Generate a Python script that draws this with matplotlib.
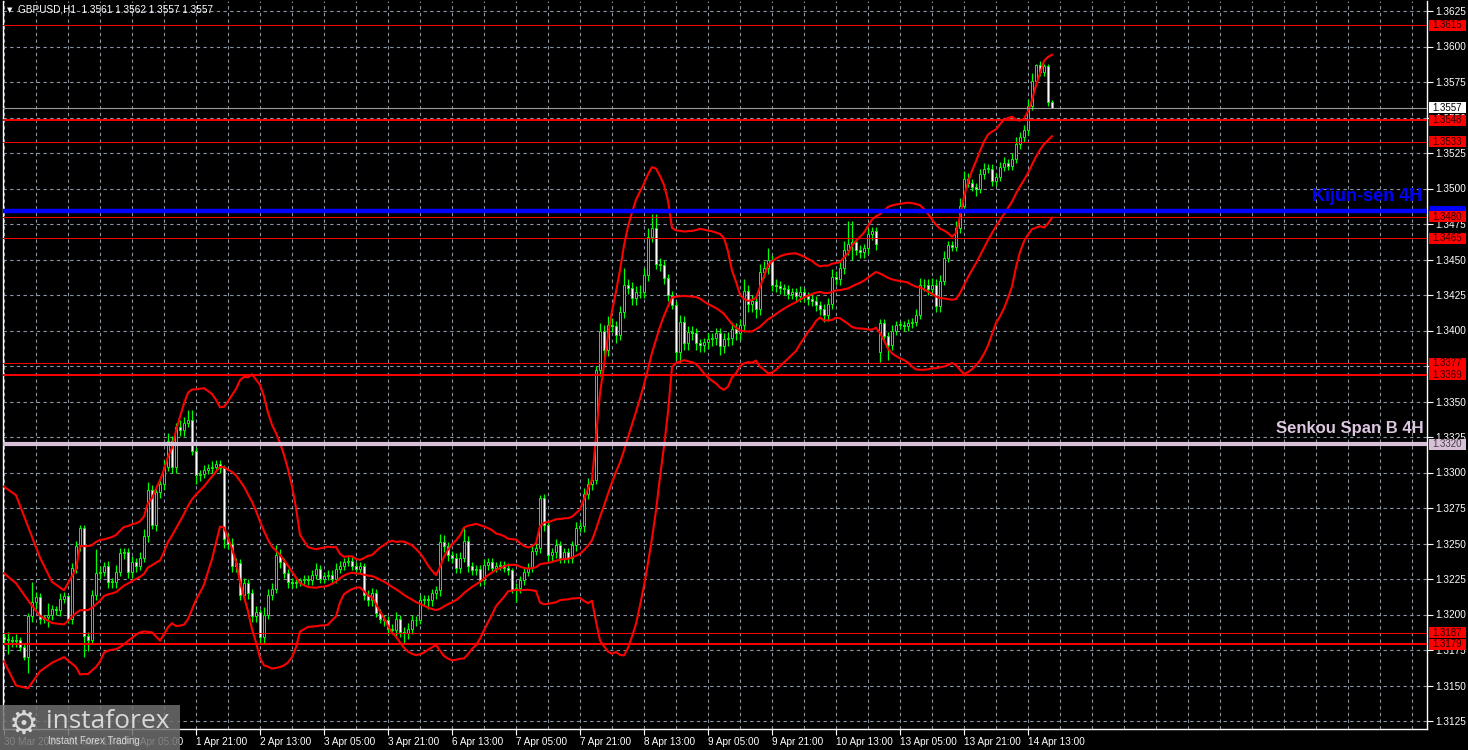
import numpy as np
import pandas as pd
import matplotlib
matplotlib.use("Agg")
import matplotlib.pyplot as plt
from matplotlib.patches import Rectangle
import matplotlib.transforms as mtransforms

# ---------------- data ----------------
symbol_title = "GBPUSD,H1  1.3561 1.3562 1.3557 1.3557"
first_open = 1.3184
gap_opens = {219: 1.3385}  # weekend gap (Monday open)

closes = [
    1.3183, 1.3182, 1.3181, 1.3182, 1.3177, 1.3170, 1.3199, 1.3209, 1.3212, 1.3197,
    1.3198, 1.3200, 1.3204, 1.3203, 1.3211, 1.3213, 1.3197, 1.3233, 1.3248, 1.3261,
    1.3185, 1.3182, 1.3214, 1.3229, 1.3230, 1.3234, 1.3223, 1.3223, 1.3230, 1.3243,
    1.3244, 1.3230, 1.3237, 1.3234, 1.3240, 1.3255, 1.3288, 1.3263, 1.3286, 1.3292,
    1.3304, 1.3322, 1.3304, 1.3332, 1.3330, 1.3335, 1.3337, 1.3315, 1.3298, 1.3299,
    1.3302, 1.3303, 1.3304, 1.3306, 1.3303, 1.3253, 1.3250, 1.3234, 1.3236, 1.3214,
    1.3222, 1.3215, 1.3199, 1.3202, 1.3184, 1.3200, 1.3214, 1.3218, 1.3242, 1.3237,
    1.3229, 1.3223, 1.3222, 1.3223, 1.3224, 1.3225, 1.3224, 1.3228, 1.3232, 1.3225,
    1.3227, 1.3228, 1.3225, 1.3232, 1.3234, 1.3237, 1.3238, 1.3234, 1.3232, 1.3234,
    1.3214, 1.3210, 1.3215, 1.3201, 1.3197, 1.3196, 1.3190, 1.3189, 1.3197, 1.3188,
    1.3187, 1.3190, 1.3196, 1.3196, 1.3210, 1.3211, 1.3210, 1.3215, 1.3217, 1.3251,
    1.3248, 1.3242, 1.3240, 1.3233, 1.3240, 1.3252, 1.3234, 1.3231, 1.3232, 1.3224,
    1.3235, 1.3237, 1.3233, 1.3234, 1.3235, 1.3233, 1.3231, 1.3217, 1.3219, 1.3224,
    1.3230, 1.3233, 1.3245, 1.3247, 1.3282, 1.3263, 1.3242, 1.3244, 1.3249, 1.3240,
    1.3244, 1.3240, 1.3249, 1.3261, 1.3262, 1.3285, 1.3292, 1.3295, 1.3372, 1.3400,
    1.3386, 1.3404, 1.3403, 1.3397, 1.3413, 1.3432, 1.3430, 1.3423, 1.3427, 1.3427,
    1.3439, 1.3466, 1.3472, 1.3447, 1.3446, 1.3437, 1.3425, 1.3418, 1.3385, 1.3406,
    1.3391, 1.3399, 1.3398, 1.3391, 1.3390, 1.3392, 1.3394, 1.3395, 1.3398, 1.3389,
    1.3394, 1.3395, 1.3401, 1.3398, 1.3404, 1.3428, 1.3419, 1.3421, 1.3415, 1.3441,
    1.3444, 1.3450, 1.3432, 1.3431, 1.3430, 1.3429, 1.3426, 1.3427, 1.3424, 1.3427,
    1.3424, 1.3422, 1.3421, 1.3418, 1.3415, 1.3411, 1.3419, 1.3438, 1.3436, 1.3444,
    1.3457, 1.3461, 1.3462, 1.3457, 1.3455, 1.3458, 1.3468, 1.3470, 1.3461, 1.3405,
    1.3396, 1.3390, 1.3400, 1.3404, 1.3404, 1.3403, 1.3405, 1.3406, 1.3411, 1.3432,
    1.3432, 1.3429, 1.3432, 1.3417, 1.3435, 1.3451, 1.3460, 1.3459, 1.3472, 1.3488,
    1.3507, 1.3504, 1.3501, 1.3500, 1.3510, 1.3514, 1.3514, 1.3505, 1.3508, 1.3515,
    1.3518, 1.3516, 1.3521, 1.3531, 1.3536, 1.3541, 1.3558, 1.3576, 1.3587, 1.3582,
    1.3586, 1.3561, 1.3557,
]

# wick lengths in pips above max(open, close) and below min(open, close)
wick_up = [
    3, 5, 3, 4, 2, 2, 2, 14, 4, 3,
    2, 8, 3, 2, 4, 3, 1, 3, 4, 2,
    2, 3, 3, 17, 4, 3, 4, 3, 5, 4,
    3, 3, 4, 3, 4, 5, 5, 3, 4, 4,
    5, 6, 4, 3, 5, 4, 7, 7, 3, 3,
    3, 3, 4, 3, 3, 2, 4, 4, 4, 3,
    4, 3, 3, 4, 2, 5, 4, 4, 7, 4,
    3, 3, 3, 3, 2, 3, 3, 3, 4, 3,
    3, 3, 3, 4, 4, 3, 3, 3, 3, 3,
    2, 3, 4, 3, 3, 3, 3, 3, 5, 3,
    3, 4, 4, 3, 4, 3, 3, 3, 3, 6,
    5, 3, 3, 3, 4, 9, 3, 3, 3, 3,
    4, 3, 3, 3, 3, 3, 3, 2, 3, 3,
    3, 3, 4, 4, 2, 3, 3, 3, 4, 3,
    3, 3, 3, 4, 3, 4, 4, 4, 3, 5,
    4, 6, 5, 4, 4, 12, 4, 4, 4, 5,
    5, 6, 10, 10, 4, 4, 3, 3, 3, 5,
    4, 4, 4, 4, 3, 3, 4, 3, 4, 4,
    4, 4, 5, 4, 4, 8, 4, 4, 4, 6,
    5, 8, 3, 4, 4, 3, 3, 3, 3, 4,
    3, 3, 3, 3, 3, 4, 4, 5, 4, 4,
    6, 16, 15, 3, 3, 3, 4, 3, 3, 3,
    3, 3, 4, 3, 3, 3, 3, 3, 4, 5,
    4, 4, 5, 4, 4, 5, 3, 3, 5, 5,
    5, 4, 3, 3, 4, 4, 3, 3, 3, 4,
    4, 3, 4, 5, 4, 4, 5, 5, 1, 3,
    2, 2, 1,
]
wick_dn = [
    3, 10, 4, 4, 3, 2, 11, 4, 5, 4,
    3, 7, 4, 3, 4, 3, 3, 4, 4, 3,
    15, 8, 3, 4, 4, 3, 4, 4, 4, 3,
    4, 4, 4, 4, 3, 3, 4, 3, 4, 4,
    4, 3, 4, 4, 4, 4, 3, 3, 6, 4,
    3, 3, 3, 3, 3, 6, 4, 4, 4, 4,
    4, 4, 4, 4, 4, 4, 3, 4, 3, 4,
    3, 4, 3, 3, 3, 3, 3, 3, 3, 3,
    3, 3, 3, 3, 3, 3, 3, 3, 3, 3,
    4, 4, 4, 3, 3, 4, 4, 3, 4, 4,
    7, 4, 4, 4, 3, 3, 6, 4, 4, 4,
    4, 4, 4, 4, 4, 3, 4, 3, 3, 4,
    3, 4, 3, 3, 3, 3, 3, 2, 8, 4,
    3, 3, 3, 3, 4, 4, 4, 4, 4, 4,
    4, 4, 4, 4, 3, 4, 4, 4, 3, 4,
    5, 4, 4, 6, 4, 4, 4, 5, 5, 4,
    4, 4, 4, 4, 4, 4, 4, 3, 6, 8,
    5, 5, 5, 5, 5, 5, 5, 5, 5, 6,
    5, 5, 5, 5, 5, 5, 6, 6, 6, 4,
    4, 4, 4, 4, 4, 4, 4, 4, 4, 4,
    4, 4, 4, 4, 4, 5, 4, 4, 4, 4,
    4, 4, 11, 4, 4, 4, 4, 4, 4, 7,
    4, 11, 4, 3, 3, 3, 3, 3, 3, 3,
    4, 4, 4, 4, 4, 3, 3, 3, 3, 3,
    3, 3, 3, 5, 3, 3, 3, 3, 3, 3,
    3, 3, 3, 3, 3, 3, 3, 3, 3, 3,
    3, 3, 0,
]

# Bollinger bands during the warm-up bars
warm_idx = [0, 3, 6, 9, 12, 15, 18]
warm_upper = [1.3290, 1.3284, 1.3262, 1.3240, 1.3223, 1.3217, 1.3232]
warm_mid = [1.3229, 1.3222, 1.3210, 1.3199, 1.3194, 1.3193, 1.3201]
warm_lower = [1.3167, 1.3150, 1.3148, 1.3160, 1.3166, 1.3170, 1.3163]

red_levels = [1.3615, 1.3548, 1.3533, 1.3480, 1.3465, 1.3377, 1.3369, 1.3187, 1.3179]
red_widths = [1.0, 2.0, 1.0, 1.0, 1.0, 1.0, 2.0, 1.0, 2.0]
current_price = 1.3557
kijun_price = 1.3484
senkou_price = 1.3320

x_labels = ["30 Mar 2026", "31 Mar 13:00", "1 Apr 05:00", "1 Apr 21:00", "2 Apr 13:00",
            "3 Apr 05:00", "3 Apr 21:00", "6 Apr 13:00", "7 Apr 05:00", "7 Apr 21:00",
            "8 Apr 13:00", "9 Apr 05:00", "9 Apr 21:00", "10 Apr 13:00", "13 Apr 05:00",
            "13 Apr 21:00", "14 Apr 13:00"]
bars_per_label = 16
y_ticks = [1.3125, 1.3150, 1.3175, 1.3200, 1.3225, 1.3250, 1.3275, 1.3300, 1.3325, 1.3350,
           1.3375, 1.3400, 1.3425, 1.3450, 1.3475, 1.3500, 1.3525, 1.3550, 1.3575, 1.3600, 1.3625]

assert len(closes) == len(wick_up) == len(wick_dn)

# ---------------- build arrays ----------------
n = len(closes)
c = np.array(closes)
o = np.concatenate([[first_open], c[:-1]])
for k, v in gap_opens.items():
    o[k] = v
top = np.maximum(o, c)
bot = np.minimum(o, c)
hi = top + np.array(wick_up) * 0.0001
lo = bot - np.array(wick_dn) * 0.0001
xs = np.arange(n)

s = pd.Series(c)
mid = s.rolling(20).mean()
sd = s.rolling(20).std(ddof=0)
upper = mid + 2 * sd
lower = mid - 2 * sd
bx = np.concatenate([warm_idx, xs[19:]])
b_up = np.concatenate([warm_upper, upper.values[19:]])
b_mid = np.concatenate([warm_mid, mid.values[19:]])
b_lo = np.concatenate([warm_lower, lower.values[19:]])

# ---------------- figure ----------------
W, H = 1468, 750
fig = plt.figure(figsize=(W / 100, H / 100), dpi=100, facecolor="black")
px_per_price = 14200.0
ax_left, ax_right, ax_top, ax_bot = 3, 1427, 1, 729
ax = fig.add_axes([ax_left / W, (H - ax_bot) / H, (ax_right - ax_left) / W, (ax_bot - ax_top) / H])
ax.set_facecolor("black")
ax.set_xlim(-0.25, (ax_right - ax_left) / 4 - 0.25)
ax.set_ylim(1.3625 - (ax_bot - 11) / px_per_price, 1.3625 + (11 - ax_top) / px_per_price)

grid_col = "#8d95a5"
for gx in range(0, 360, 8):
    ax.axvline(gx, color=grid_col, lw=0.8, ls=(0, (3, 3)), zorder=0.5)
for gy in y_ticks:
    ax.axhline(gy, color=grid_col, lw=0.8, ls=(0, (3, 3)), zorder=0.5)

# candles
lime = "#00ff00"
ax.vlines(xs, lo, hi, color=lime, lw=0.9, zorder=2)
heights = np.maximum(top - bot, 0.000025)
fills = ["black" if cc >= oo else "white" for oo, cc in zip(o, c)]
ax.bar(xs, heights, bottom=bot, width=0.62, color=fills, edgecolor=lime, linewidth=0.7, zorder=2.5)

# Bollinger bands
for yb in (b_up, b_mid, b_lo):
    ax.plot(bx, yb, color="#ff0000", lw=1.5, zorder=3, solid_joinstyle="round")

# levels
for lvl, lw in zip(red_levels, red_widths):
    ax.axhline(lvl, color="#ff0000", lw=lw * 0.7, zorder=4)
ax.axhline(current_price, color="#9a9a9a", lw=0.8, zorder=4)
ax.axhline(kijun_price, color="#0000ff", lw=3.2, zorder=4)
ax.axhline(senkou_price, color="#d8c0d8", lw=3.0, zorder=4)

bold_font = ["Liberation Sans", "DejaVu Sans"]
ax.text((1421 - ax_left) / 4, 1.3625 - (196 - 11) / px_per_price, "Kijun-sen 4H", color="#0000ff",
        fontsize=13, fontweight="bold", family=bold_font, ha="right", va="center", zorder=5)
ax.text((1423 - ax_left) / 4, 1.3625 - (428 - 11) / px_per_price, "Senkou Span B 4H", color="#dcc6e0",
        fontsize=12, fontweight="bold", family=bold_font, ha="right", va="center", zorder=5)

# axes styling
for side in ("left", "right", "bottom"):
    ax.spines[side].set_color("white")
    ax.spines[side].set_linewidth(1.0)
ax.spines["top"].set_visible(False)
ax.yaxis.tick_right()
ax.set_yticks(y_ticks)
ax.set_yticklabels([f"{v:.4f}" for v in y_ticks])
ax.tick_params(axis="y", colors="white", length=4, width=0.8, pad=2, labelsize=7.2)
ax.set_xticks([i * bars_per_label for i in range(len(x_labels))])
ax.set_xticklabels(x_labels)
ax.tick_params(axis="x", colors="white", length=4, width=0.8, pad=1.5, labelsize=7.2)
for t in ax.get_xticklabels():
    t.set_ha("left")
for t in ax.get_xticklabels() + ax.get_yticklabels():
    t.set_family(["Liberation Sans", "DejaVu Sans"])

# right-axis price boxes (fixed pixel size, drawn over the tick labels)
trans = mtransforms.blended_transform_factory(ax.transAxes, ax.transData)
axw = ax_right - ax_left
box_x0 = (1429 - ax_left) / axw
box_w = 37 / axw
box_h = 11 / px_per_price
box_specs = [(kijun_price, "#0000ff", "#0000ff")] + \
            [(lv, "#ff0000", "#300000") for lv in red_levels] + \
            [(current_price, "white", "black"), (senkou_price, "#d8c0d8", "#404040")]
for k, (price, fc, tc) in enumerate(box_specs):
    ax.add_patch(Rectangle((box_x0, price - box_h / 2), box_w, box_h, transform=trans,
                           facecolor=fc, edgecolor="none", clip_on=False, zorder=6 + 0.01 * k))
    ax.text(box_x0 + 3 / axw, price, f"{price:.4f}", transform=trans, ha="left", va="center",
            color=tc, fontsize=7.0, family=["Liberation Sans", "DejaVu Sans"], clip_on=False,
            zorder=6.005 + 0.01 * k)

# title
fig.text(7 / W, 1 - 10 / H, "\u25BC", color="white", fontsize=5, va="center", ha="left",
         family="DejaVu Sans")
fig.text(18 / W, 1 - 10 / H, symbol_title, color="white", fontsize=7.2, va="center", ha="left",
         family=["Liberation Sans", "DejaVu Sans"])

# logo
fig.patches.append(Rectangle((0, 0), 180 / W, 45 / H, transform=fig.transFigure,
                             facecolor="#6e6e6e", alpha=0.85, edgecolor="none", zorder=10))
fig.text(24 / W, 1 - 724 / H, "\u2699", color="#d8d8d8", fontsize=24, ha="center", va="center",
         family="DejaVu Sans", zorder=11)
fig.text(46 / W, 1 - 721 / H, "instaforex", color="#d8d8d8", fontsize=19, ha="left", va="center",
         family=["Open Sans", "DejaVu Sans"], zorder=11)
fig.text(48 / W, 1 - 741 / H, "Instant Forex Trading", color="#d8d8d8", fontsize=7, ha="left",
         va="center", family=["Liberation Sans", "DejaVu Sans"], zorder=11)

fig.savefig("out.png", dpi=100, facecolor="black")
